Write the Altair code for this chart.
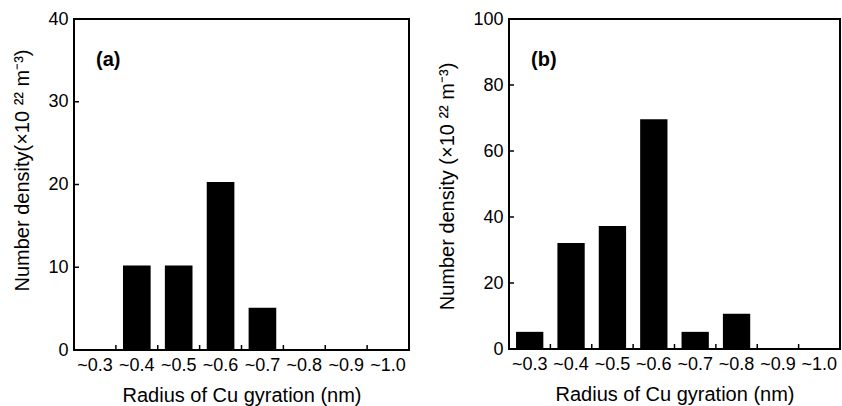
import altair as alt
import pandas as pd

categories = ["~0.3", "~0.4", "~0.5", "~0.6", "~0.7", "~0.8", "~0.9", "~1.0"]
density_a = [0, 10.2, 10.2, 20.3, 5.1, 0, 0, 0]
density_b = [5.2, 32.1, 37.3, 69.6, 5.2, 10.7, 0, 0]
yticks_a = [0, 10, 20, 30, 40]
yticks_b = [0, 20, 40, 60, 80, 100]
inner_yticks_a = [10, 20, 30]
inner_yticks_b = [20, 40, 60, 80]
x_title = "Radius of Cu gyration (nm)"
y_title_a = "Number density(×10 ²² m⁻³)"
y_title_b = "Number density (×10 ²² m⁻³)"

FONT = "Liberation Sans"


def panel(values, ymax, yvals, inner, label, ytitle, width, height, title_y):
    df = pd.DataFrame({"radius": categories, "density": values})
    xscale = alt.Scale(domain=categories, paddingInner=0, paddingOuter=0)
    yscale = alt.Scale(domain=[0, ymax], nice=False)
    xaxis = alt.Axis(
        labelAngle=0, ticks=False, domain=False, grid=False,
        labelPadding=6, labelFontSize=18, titleFontSize=20,
        titlePadding=11, labelColor="black", titleColor="black",
        titleFontWeight="normal", labelFont=FONT, titleFont=FONT,
    )
    yaxis = alt.Axis(
        values=yvals, ticks=False, domain=False, grid=False,
        labelPadding=6, labelFontSize=18, titleFontSize=20,
        titlePadding=15, labelColor="black", titleColor="black",
        titleFontWeight="normal", labelFont=FONT, titleFont=FONT,
        titleY=title_y,
    )
    bars = alt.Chart(df).mark_bar(color="black", width={"band": 0.66}).encode(
        x=alt.X("radius:N", scale=xscale, sort=categories, title=x_title, axis=xaxis),
        y=alt.Y("density:Q", scale=yscale, title=ytitle, axis=yaxis),
    )

    yt = alt.Chart(pd.DataFrame({"density": inner})).mark_rule(
        color="black", strokeWidth=1.5
    ).encode(
        y=alt.Y("density:Q", scale=yscale, title=ytitle, axis=yaxis),
        x=alt.value(0),
        x2=alt.value(5),
    )
    xt = alt.Chart(pd.DataFrame({"radius": categories[1:]})).mark_rule(
        color="black", strokeWidth=1.5
    ).encode(
        x=alt.X("radius:N", scale=xscale, sort=categories, bandPosition=0,
                title=x_title, axis=xaxis),
        y=alt.value(height - 5),
        y2=alt.value(height),
    )
    lab = alt.Chart(pd.DataFrame({"t": [label]})).mark_text(
        align="left", baseline="middle", fontSize=20, fontWeight="bold",
        font=FONT, color="black",
    ).encode(text="t:N", x=alt.value(22), y=alt.value(41))
    return alt.layer(bars, yt, xt, lab).properties(width=width, height=height)


pa = panel(density_a, 40, yticks_a, inner_yticks_a, "(a)", y_title_a, 335, 331, 151)
pb = panel(density_b, 100, yticks_b, inner_yticks_b, "(b)", y_title_b, 331, 330, 167)

chart = (
    alt.hconcat(pa, pb, spacing=26)
    .properties(
        padding={"left": 11, "top": 9, "right": 0, "bottom": 0},
        background="white",
    )
    .configure_view(stroke="black", strokeWidth=2)
)

chart.save("out.html", embed_options={"renderer": "svg", "actions": False})
